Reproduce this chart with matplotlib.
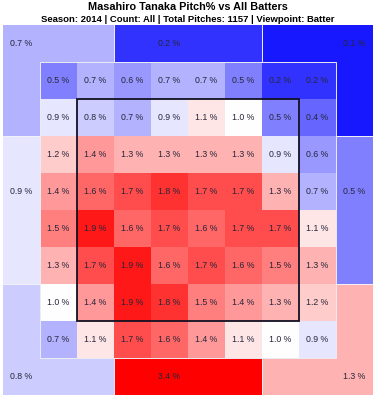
import numpy as np
import matplotlib
matplotlib.use("Agg")
import matplotlib.pyplot as plt
from matplotlib.colors import LinearSegmentedColormap, Normalize
from matplotlib.patches import Rectangle

plt.rcParams['font.family'] = ['Liberation Sans', 'DejaVu Sans']

title = "Masahiro Tanaka Pitch% vs All Batters"
subtitle = "Season: 2014 | Count: All | Total Pitches: 1157 | Viewpoint: Batter"

# inner 8x8 grid, top row first (percent)
inner_pct = [
    [0.5, 0.7, 0.6, 0.7, 0.7, 0.5, 0.2, 0.2],
    [0.9, 0.8, 0.7, 0.9, 1.1, 1.0, 0.5, 0.4],
    [1.2, 1.4, 1.3, 1.3, 1.3, 1.3, 0.9, 0.6],
    [1.4, 1.6, 1.7, 1.8, 1.7, 1.7, 1.3, 0.7],
    [1.5, 1.9, 1.6, 1.7, 1.6, 1.7, 1.7, 1.1],
    [1.3, 1.7, 1.9, 1.6, 1.7, 1.6, 1.5, 1.3],
    [1.0, 1.4, 1.9, 1.8, 1.5, 1.4, 1.3, 1.2],
    [0.7, 1.1, 1.7, 1.6, 1.4, 1.1, 1.0, 0.9],
]

# outer zones: top-left, top, top-right, left, right, bottom-left, bottom, bottom-right
outer_names = ["TL", "T", "TR", "L", "R", "BL", "B", "BR"]
outer_pct = [0.7, 0.2, 0.1, 0.9, 0.5, 0.8, 3.4, 1.3]

# which border cell of the 10x10 frame belongs to which outer zone
zone_map = -np.ones((10, 10), dtype=int)
zone_map[0, 0:3] = 0; zone_map[1:3, 0] = 0
zone_map[0, 3:7] = 1
zone_map[0, 7:10] = 2; zone_map[1:3, 9] = 2
zone_map[3:7, 0] = 3
zone_map[3:7, 9] = 4
zone_map[7:10, 0] = 5; zone_map[9, 0:3] = 5
zone_map[9, 3:7] = 6
zone_map[7:9, 9] = 7; zone_map[9, 7:10] = 7
# label cell (row, col) for each outer zone
label_cells = [(0, 0), (0, 4), (0, 9), (4, 0), (4, 9), (9, 0), (9, 4), (9, 9)]

cmap = LinearSegmentedColormap.from_list("bwr2", ["#0000ff", "#ffffff", "#ff0000"])
norm = Normalize(vmin=0.0, vmax=2.0, clip=True)

fig = plt.figure(figsize=(3.76, 4.0), dpi=100)
ax = fig.add_axes([3 / 376, 5 / 400, 370 / 376, 370 / 400])

outer_grid = np.ma.masked_less(np.where(zone_map >= 0,
                                        np.array(outer_pct)[np.clip(zone_map, 0, None)], -1), 0)
ax.pcolormesh(np.arange(11), np.arange(11), outer_grid, cmap=cmap, norm=norm)

inner = np.array(inner_pct)
ax.pcolormesh(np.arange(1, 10), np.arange(1, 10), inner, cmap=cmap, norm=norm)

txt_col = "#26263a"
for r in range(8):
    for c in range(8):
        ax.text(c + 1.5, r + 1.5, f"{inner[r, c]:.1f} %", ha="center", va="center",
                fontsize=6.3, color=txt_col)
for (r, c), v in zip(label_cells, outer_pct):
    ax.text(c + 0.5, r + 0.5, f"{v:.1f} %", ha="center", va="center",
            fontsize=6.3, color=txt_col)

# thin light seams between zones
seam = dict(color="#f2f2f6", lw=0.7)
ax.add_patch(Rectangle((1, 1), 8, 8, fill=False, ec="#ececf2", lw=0.7))
for x in (3, 7):
    ax.plot([x, x], [0, 1], **seam)
    ax.plot([x, x], [9, 10], **seam)
for y in (3, 7):
    ax.plot([0, 1], [y, y], **seam)
    ax.plot([9, 10], [y, y], **seam)

# strike zone
ax.add_patch(Rectangle((2, 2), 6, 6, fill=False, ec="#111122", lw=1.3))

ax.set_xlim(0, 10)
ax.set_ylim(10, 0)
ax.axis("off")

fig.text(0.5, 1 - 7 / 400, title, ha="center", va="center", fontsize=7.8, fontweight="bold")
fig.text(0.5, 1 - 19 / 400, subtitle, ha="center", va="center", fontsize=6.8, fontweight="bold")

fig.savefig("out.png", dpi=100)
